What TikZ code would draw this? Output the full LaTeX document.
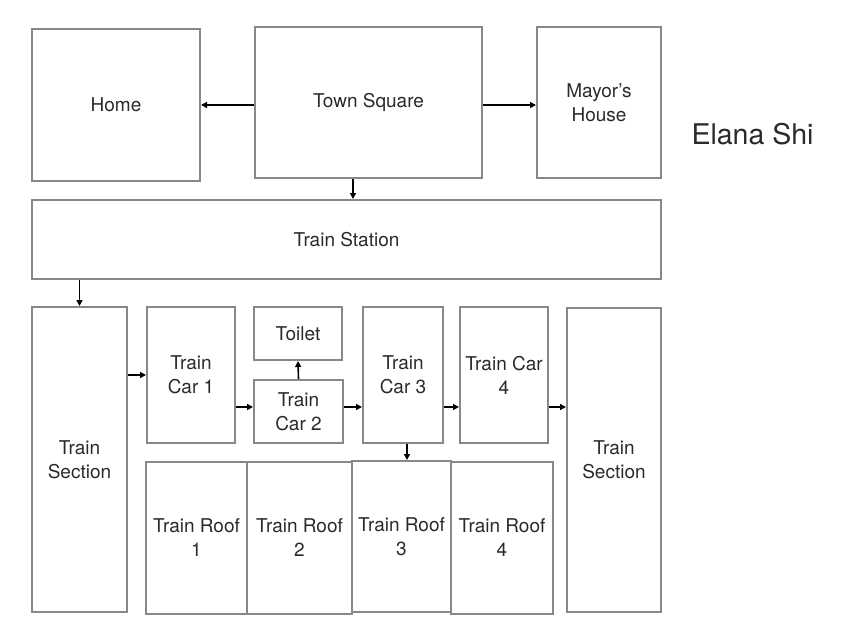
\documentclass[tikz,border=0pt]{standalone}
\usepackage{fontspec}
\setmainfont{TeX Gyre Heros}
\usetikzlibrary{arrows.meta}
\definecolor{boxgray}{HTML}{85888C}
\definecolor{txt}{HTML}{2A2A2A}
\tikzset{
  box/.style={draw=boxgray, line width=2pt, rectangle, inner sep=0pt, align=center,
    text=txt, font=\fontsize{19}{24}\selectfont},
  arr/.style={-{Triangle[length=6pt,width=6pt]}, line width=1.6pt, black},
}
\begin{document}
\begin{tikzpicture}[x=1pt,y=-1pt]
\useasboundingbox (0,0) rectangle (844,633);
\node[box, minimum width=168pt, minimum height=152pt] (home) at (116,105) {Home};
\node[box, minimum width=227pt, minimum height=151pt] (town) at (368.5,102.5) {\raisebox{-2pt}{Town Square}};
\node[box, minimum width=124pt, minimum height=151pt] (mayor) at (599,102.5) {Mayor's\\House};
\node[box, minimum width=629pt, minimum height=79pt] (station) at (346.5,239.5) {Train Station};
\node[box, minimum width=95pt, minimum height=305pt] (secl) at (79.5,459.5) {Train\\Section};
\node[box, minimum width=88pt, minimum height=136pt] (car1) at (191,375) {Train\\Car 1};
\node[box, minimum width=88pt, minimum height=53pt] (toilet) at (298,333.5) {Toilet};
\node[box, minimum width=89pt, minimum height=63pt] (car2) at (298.5,411.5) {Train\\Car 2};
\node[box, minimum width=80pt, minimum height=136pt] (car3) at (403,375) {Train\\Car 3};
\node[box, minimum width=88pt, minimum height=136pt] (car4) at (504,375) {Train Car\\4};
\node[box, minimum width=94pt, minimum height=304pt] (secr) at (614,460) {Train\\Section};
\node[box, minimum width=101pt, minimum height=152pt] (roof1) at (196.5,538) {Train Roof\\1};
\node[box, minimum width=105pt, minimum height=152pt] (roof2) at (299.5,538) {Train Roof\\2};
\node[box, minimum width=99pt, minimum height=151pt] (roof3) at (401.5,536.5) {Train Roof\\3};
\node[box, minimum width=102pt, minimum height=152pt] (roof4) at (502,538) {Train Roof\\4};
\node[text=txt, font=\fontsize{28.5}{34}\selectfont] (name) at (752.5,134) {Elana Shi};
\coordinate (lvl) at (0,407);
\draw[arr] (town.west |- home.east) -- (home.east);
\draw[arr] (town.east |- home.east) -- (mayor.west |- home.east);
\draw[arr] ([xshift=-15.5pt]town.south) -- ([xshift=-15.5pt]town.south |- station.north);
\draw[arr] (secl.north |- station.south) -- (secl.north);
\draw[arr] (secl.east |- car1.west) -- (car1.west);
\draw[arr] (car1.east |- lvl) -- (car2.west |- lvl);
\draw[arr] (car2.north) -- (toilet.south);
\draw[arr] (car2.east |- lvl) -- (car3.west |- lvl);
\draw[arr] (car3.east |- lvl) -- (car4.west |- lvl);
\draw[arr] (car4.east |- lvl) -- (secr.west |- lvl);
\draw[arr] ([xshift=4pt]car3.south) -- ([xshift=4pt]car3.south |- roof3.north);
\end{tikzpicture}
\end{document}
